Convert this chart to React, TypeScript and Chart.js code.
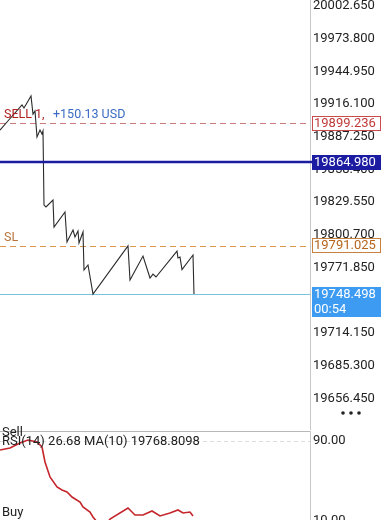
import React, { useEffect, useRef } from 'react';
import { Chart, registerables } from 'chart.js';
Chart.register(...registerables);

const FONT = 'Roboto, "Noto Sans", sans-serif';

// Price series (time index, price)
const priceTimes = [0, 7, 22, 24, 31, 33, 35, 37, 40, 42, 43, 44, 46, 53, 54, 65, 67, 73, 75, 78, 79, 83, 84, 88, 93, 128, 130, 143, 150, 153, 156, 177, 178, 180, 182, 193, 194];
const priceValues = [19893.2, 19900.3, 19915.3, 19912.6, 19923.2, 19907.3, 19910.0, 19887.0, 19893.2, 19889.7, 19892.3, 19827.0, 19825.3, 19831.4, 19807.6, 19820.9, 19794.4, 19805.0, 19798.8, 19804.1, 19793.5, 19803.2, 19769.7, 19774.1, 19748.5, 19791.0, 19760.8, 19782.0, 19762.6, 19766.0, 19763.5, 19786.4, 19780.3, 19781.1, 19770.0, 19782.9, 19748.5];
const priceTicks = [20002.65, 19973.8, 19944.95, 19916.1, 19887.25, 19858.4, 19829.55, 19800.7, 19771.85, 19743.0, 19714.15, 19685.3, 19656.45];
const priceMin = 19628.5;
const priceMax = 20007.95;
const timeMax = 310;

const sellLevel = 19899.236;
const lineLevel = 19864.98;
const slLevel = 19791.025;
const lastPrice = 19748.498;
const countdown = '00:54';
const sellLabel = 'SELL 1,';
const profitLabel = '+150.13 USD';
const slLabel = 'SL';

// RSI series
const rsiTimes = [0, 10, 20, 28, 37, 42, 45, 50, 57, 62, 67, 72, 80, 83, 90, 93, 97, 102, 108, 110, 128, 135, 143, 152, 160, 170, 178, 183, 190, 193];
const rsiValues = [81, 83, 88, 91, 89, 84, 69, 54, 44, 41, 39, 34, 29, 24, 19, 14, 9, 5, 9, 12, 23, 16, 16, 20, 15, 18, 21, 18, 19, 15];
const rsiTicks = [10, 90];
const rsiText = 'RSI(14) 26.68 MA(10) 19768.8098';
const sellZone = 'Sell';
const buyZone = 'Buy';

const AXIS_W = 79;

function fmt3(v: number) { return v.toFixed(3); }

const mainPlugin = {
  id: 'mainOverlay',
  beforeDatasetsDraw(chart: any) {
    const { ctx, chartArea: ca, scales } = chart;
    const y = scales.y;
    const hline = (v: number, color: string, width: number, dash: number[]) => {
      const py = Math.round(y.getPixelForValue(v)) + 0.5;
      ctx.save();
      ctx.strokeStyle = color; ctx.lineWidth = width; ctx.setLineDash(dash);
      ctx.beginPath(); ctx.moveTo(ca.left, py); ctx.lineTo(ca.right, py); ctx.stroke();
      ctx.restore();
    };
    hline(sellLevel, '#c97a7a', 1, [6, 4]);
    hline(slLevel, '#d9964f', 1, [6, 4]);
    hline(lastPrice, '#7cc2da', 1, []);
  },
  afterDatasetsDraw(chart: any) {
    const { ctx, chartArea: ca, scales } = chart;
    const py = scales.y.getPixelForValue(lineLevel);
    ctx.save();
    ctx.strokeStyle = '#1c1ca2'; ctx.lineWidth = 2.5;
    ctx.beginPath(); ctx.moveTo(ca.left, py); ctx.lineTo(ca.right + 2, py); ctx.stroke();
    ctx.restore();
  },
  afterDraw(chart: any) {
    const { ctx, chartArea: ca, scales } = chart;
    const y = scales.y;
    ctx.save();
    ctx.font = `12.5px ${FONT}`;
    ctx.textBaseline = 'middle';
    const sy = y.getPixelForValue(sellLevel) - 8.5;
    ctx.fillStyle = '#b02020';
    ctx.fillText(sellLabel, 4, sy);
    ctx.fillStyle = '#3a6cc4';
    ctx.fillText(profitLabel, 53, sy);
    ctx.fillStyle = '#b8743c';
    ctx.fillText(slLabel, 4, y.getPixelForValue(slLevel) - 8);

    const bx = ca.right + 2;
    const bw = 69;
    ctx.font = `13px ${FONT}`;
    const box = (v: number, fill: string | null, stroke: string | null, color: string, lines: string[]) => {
      const cy = y.getPixelForValue(v);
      const h = 15 * lines.length;
      const top = Math.round(cy - 7.5);
      ctx.fillStyle = fill || '#fff';
      ctx.fillRect(bx, top, bw, h);
      if (stroke) { ctx.strokeStyle = stroke; ctx.lineWidth = 1; ctx.strokeRect(bx + 0.5, top + 0.5, bw - 1, h - 1); }
      ctx.fillStyle = color;
      lines.forEach((t, i) => ctx.fillText(t, bx + 2, top + 8 + i * 15));
    };
    box(sellLevel, null, '#c94a4a', '#c03a3a', [fmt3(sellLevel)]);
    box(lineLevel, '#1c1ca2', null, '#fff', [fmt3(lineLevel)]);
    box(slLevel, null, '#c8803e', '#b5651d', [fmt3(slLevel)]);
    box(lastPrice, '#3d9bf2', null, '#fff', [fmt3(lastPrice), countdown]);

    ctx.fillStyle = '#222';
    [343, 351, 359].forEach((dx) => {
      ctx.beginPath(); ctx.arc(dx, ca.bottom - 17, 1.8, 0, Math.PI * 2); ctx.fill();
    });
    ctx.restore();
  },
};

const rsiPlugin = {
  id: 'rsiOverlay',
  beforeDatasetsDraw(chart: any) {
    const { ctx, chartArea: ca, scales } = chart;
    const y = scales.y;
    ctx.save();
    ctx.strokeStyle = '#dcdcdc'; ctx.lineWidth = 1; ctx.setLineDash([4, 3]);
    rsiTicks.forEach((v) => {
      const py = Math.round(y.getPixelForValue(v)) + 0.5;
      ctx.beginPath(); ctx.moveTo(ca.left, py); ctx.lineTo(ca.right, py); ctx.stroke();
    });
    ctx.setLineDash([]);
    ctx.strokeStyle = '#b8b8b8';
    ctx.beginPath(); ctx.moveTo(ca.left, ca.top + 0.5); ctx.lineTo(ca.right, ca.top + 0.5); ctx.stroke();
    ctx.restore();
  },
  afterDraw(chart: any) {
    const { ctx, chartArea: ca } = chart;
    ctx.save();
    ctx.font = `13px ${FONT}`;
    ctx.textBaseline = 'middle';
    ctx.fillStyle = '#222';
    ctx.fillText(sellZone, 2, ca.top + 2);
    ctx.fillText(rsiText, 2, ca.top + 11);
    ctx.fillText(buyZone, 2, ca.top + 82);
    ctx.restore();
  },
};

export default function App() {
  const mainRef = useRef<HTMLCanvasElement>(null);
  const rsiRef = useRef<HTMLCanvasElement>(null);

  useEffect(() => {
    document.body.style.margin = '0';
    const main = new Chart(mainRef.current as HTMLCanvasElement, {
      type: 'line',
      data: {
        datasets: [{
          data: priceTimes.map((t, i) => ({ x: t, y: priceValues[i] })),
          borderColor: '#2a2a2a',
          borderWidth: 1.1,
          pointRadius: 0,
          tension: 0,
        }],
      },
      options: {
        animation: false,
        responsive: false,
        maintainAspectRatio: false,
        layout: { padding: 0 },
        plugins: { legend: { display: false }, tooltip: { enabled: false } },
        scales: {
          x: { type: 'linear', min: 0, max: timeMax, display: false },
          y: {
            position: 'right',
            min: priceMin,
            max: priceMax,
            afterBuildTicks: (s: any) => { s.ticks = priceTicks.map((v) => ({ value: v })); },
            afterFit: (s: any) => { s.width = AXIS_W; s.paddingTop = 0; s.paddingBottom = 0; },
            ticks: {
              padding: 3,
              color: '#222',
              font: { family: FONT, size: 13 },
              callback: (v: any) => fmt3(Number(v)),
            },
            grid: { display: true, drawOnChartArea: false, drawTicks: false },
            border: { display: true, color: '#c8c8c8', width: 1 },
          },
        },
      },
      plugins: [mainPlugin],
    } as any);

    const rsi = new Chart(rsiRef.current as HTMLCanvasElement, {
      type: 'line',
      data: {
        datasets: [{
          data: rsiTimes.map((t, i) => ({ x: t, y: rsiValues[i] })),
          borderColor: '#c4262c',
          borderWidth: 1.6,
          pointRadius: 0,
          tension: 0,
        }],
      },
      options: {
        animation: false,
        responsive: false,
        maintainAspectRatio: false,
        layout: { padding: { top: 7, left: 0, right: 0, bottom: 0 } },
        plugins: { legend: { display: false }, tooltip: { enabled: false } },
        scales: {
          x: { type: 'linear', min: 0, max: timeMax, display: false },
          y: {
            position: 'right',
            min: 0,
            max: 100,
            afterBuildTicks: (s: any) => { s.ticks = rsiTicks.map((v) => ({ value: v })); },
            afterFit: (s: any) => { s.width = AXIS_W; s.paddingTop = 0; s.paddingBottom = 0; },
            ticks: {
              padding: 3,
              color: '#222',
              font: { family: FONT, size: 13 },
              callback: (v: any) => Number(v).toFixed(2),
            },
            grid: { display: true, drawOnChartArea: false, drawTicks: false },
            border: { display: true, color: '#c8c8c8', width: 1 },
          },
        },
      },
      plugins: [rsiPlugin],
    } as any);

    return () => { main.destroy(); rsi.destroy(); };
  }, []);

  return (
    <div style={{ position: 'fixed', left: 0, top: 0, width: 389, height: 520, overflow: 'hidden', background: '#fff' }}>
      <canvas ref={mainRef} width={389} height={430} style={{ position: 'absolute', left: 0, top: 0 }} />
      <canvas ref={rsiRef} width={389} height={107} style={{ position: 'absolute', left: 0, top: 424 }} />
    </div>
  );
}
